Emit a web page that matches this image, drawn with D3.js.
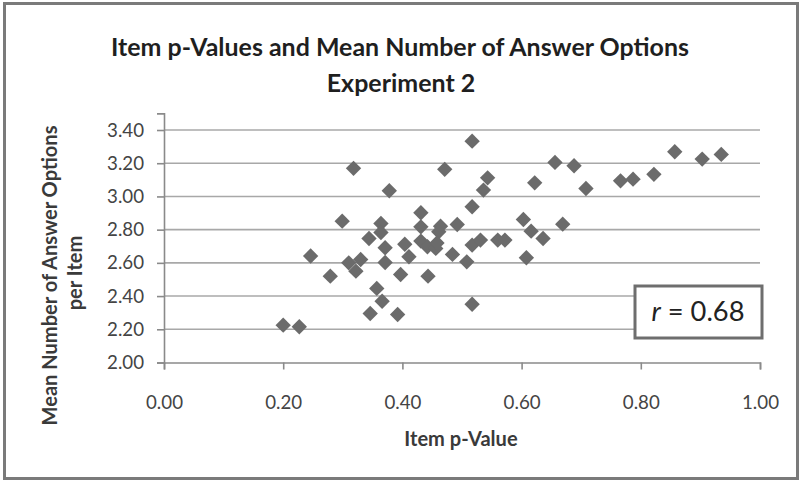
<!DOCTYPE html>
<html>
<head>
<meta charset="utf-8">
<script src="https://cdn.jsdelivr.net/npm/d3@7"></script>
<style>
  html, body { margin: 0; padding: 0; background: #ffffff; }
  svg { display: block; }
</style>
</head>
<body>
<svg id="chart" width="802" height="483"></svg>
<script>
// ---- data ----
const pValues = [0.200,0.227,0.318,0.378,0.299,0.364,0.364,0.344,0.371,0.246,
                 0.310,0.330,0.322,0.279,0.371,0.397,0.357,0.366,0.346,0.392,
                 0.404,0.517,0.471,0.543,0.536,0.517,0.431,0.431,0.492,0.464,
                 0.461,0.431,0.442,0.456,0.458,0.411,0.443,0.484,0.508,0.517,
                 0.531,0.560,0.572,0.517,0.656,0.688,0.622,0.708,0.766,0.787,
                 0.603,0.616,0.636,0.669,0.608,0.822,0.857,0.903,0.935];
const meanOptions = [2.225,2.215,3.169,3.034,2.851,2.837,2.783,2.747,2.691,2.641,
                     2.600,2.620,2.550,2.520,2.602,2.530,2.446,2.369,2.295,2.289,
                     2.712,3.333,3.163,3.112,3.038,2.938,2.902,2.817,2.831,2.821,
                     2.787,2.731,2.697,2.687,2.720,2.637,2.520,2.651,2.606,2.707,
                     2.737,2.737,2.737,2.351,3.205,3.185,3.082,3.048,3.094,3.104,
                     2.861,2.791,2.747,2.833,2.631,3.133,3.269,3.225,3.253];
const xTicks = [0.0, 0.2, 0.4, 0.6, 0.8, 1.0];
const yTicks = [2.0, 2.2, 2.4, 2.6, 2.8, 3.0, 3.2, 3.4];
const titleLines = ["Item p-Values and Mean Number of Answer Options", "Experiment 2"];
const xTitle = "Item p-Value";
const yTitleLines = ["Mean Number of Answer Options", "per Item"];
const rValue = "0.68";

// ---- drawing ----
const svg = d3.select("#chart");
const FONT = "Lato, 'Open Sans', sans-serif";

svg.append("rect").attr("x", 0).attr("y", 0).attr("width", 802).attr("height", 483).attr("fill", "#fff");
// outer frame
svg.append("rect").attr("x", 4.5).attr("y", 3.5).attr("width", 793).attr("height", 475)
  .attr("fill", "none").attr("stroke", "#7a7a7a").attr("stroke-width", 3);

const x = d3.scaleLinear().domain([0, 1]).range([164, 760]);
const y = d3.scaleLinear().domain([2, 3.5]).range([362.5, 113.4]);

function fit(sel, target) {
  const fs = parseFloat(sel.attr("font-size"));
  const w = sel.node().getComputedTextLength();
  if (w > 0) sel.attr("font-size", (fs * target / w).toFixed(2));
}

// gridlines
svg.append("g").selectAll("line").data(yTicks.slice(1)).join("line")
  .attr("x1", x(0)).attr("x2", x(1))
  .attr("y1", d => y(d)).attr("y2", d => y(d))
  .attr("stroke", "#a8a8a8").attr("stroke-width", 1.6);

// y axis
const yAxis = d3.axisLeft(y).tickValues(yTicks).tickFormat(d3.format(".2f"))
  .tickSize(7).tickPadding(13);
const gy = svg.append("g").attr("transform", `translate(${x(0)},0)`).call(yAxis);
gy.select(".domain").attr("stroke", "#8a8a8a").attr("stroke-width", 1.6);
gy.selectAll(".tick line").attr("stroke", "#8a8a8a").attr("stroke-width", 1.6);
gy.selectAll(".tick text").attr("font-family", FONT).attr("font-size", 15)
  .attr("fill", "#444");

// x axis
const xAxis = d3.axisBottom(x).tickValues(xTicks).tickFormat(d3.format(".2f"))
  .tickSize(7).tickPadding(26);
const gx = svg.append("g").attr("transform", `translate(0,${y(2)})`).call(xAxis);
gx.select(".domain").attr("stroke", "#8a8a8a").attr("stroke-width", 1.6);
gx.selectAll(".tick line").attr("stroke", "#8a8a8a").attr("stroke-width", 1.6);
gx.selectAll(".tick text").attr("font-family", FONT).attr("font-size", 15)
  .attr("fill", "#444");

// fit tick label size to reference width of "3.40" (~38px)
const sample = gy.selectAll(".tick text").filter(d => d === 3.4);
fit(sample, 37);
const tickFs = sample.attr("font-size");
gy.selectAll(".tick text").attr("font-size", tickFs);
gx.selectAll(".tick text").attr("font-size", tickFs);

// points (diamonds)
const pts = pValues.map((p, i) => [p, meanOptions[i]]);
const diamond = d3.symbol().type(d3.symbolSquare).size(118);
svg.append("g").selectAll("path").data(pts).join("path")
  .attr("d", diamond)
  .attr("transform", d => `translate(${x(d[0])},${y(d[1])}) rotate(45)`)
  .attr("fill", "#6b6b6b");

// title
const t1 = svg.append("text").attr("x", 400).attr("y", 56).attr("text-anchor", "middle")
  .attr("font-family", FONT).attr("font-weight", 700).attr("font-size", 21)
  .attr("fill", "#1f1f1f").text(titleLines[0]);
fit(t1, 578);
svg.append("text").attr("x", 401).attr("y", 92).attr("text-anchor", "middle")
  .attr("font-family", FONT).attr("font-weight", 700).attr("font-size", t1.attr("font-size"))
  .attr("fill", "#1f1f1f").text(titleLines[1]);

// y title
const yt1 = svg.append("text").attr("transform", "translate(57,275.5) rotate(-90)")
  .attr("text-anchor", "middle").attr("font-family", FONT).attr("font-weight", 700)
  .attr("font-size", 16).attr("fill", "#3a3a3a").text(yTitleLines[0]);
fit(yt1, 300);
svg.append("text").attr("transform", "translate(82,273) rotate(-90)")
  .attr("text-anchor", "middle").attr("font-family", FONT).attr("font-weight", 700)
  .attr("font-size", yt1.attr("font-size")).attr("fill", "#3a3a3a").text(yTitleLines[1]);

// x title
svg.append("text").attr("x", 461).attr("y", 446).attr("text-anchor", "middle")
  .attr("font-family", FONT).attr("font-weight", 700)
  .attr("font-size", yt1.attr("font-size")).attr("fill", "#3a3a3a").text(xTitle);

// r box
svg.append("rect").attr("x", 635).attr("y", 286).attr("width", 127).attr("height", 52)
  .attr("fill", "#fff").attr("stroke", "#6e6e6e").attr("stroke-width", 3);
const rt = svg.append("text").attr("x", 698).attr("y", 321).attr("text-anchor", "middle")
  .attr("font-family", FONT).attr("font-size", 24).attr("fill", "#222");
rt.append("tspan").attr("font-style", "italic").text("r");
rt.append("tspan").text(" = " + rValue);
fit(rt, 93);
</script>
</body>
</html>
